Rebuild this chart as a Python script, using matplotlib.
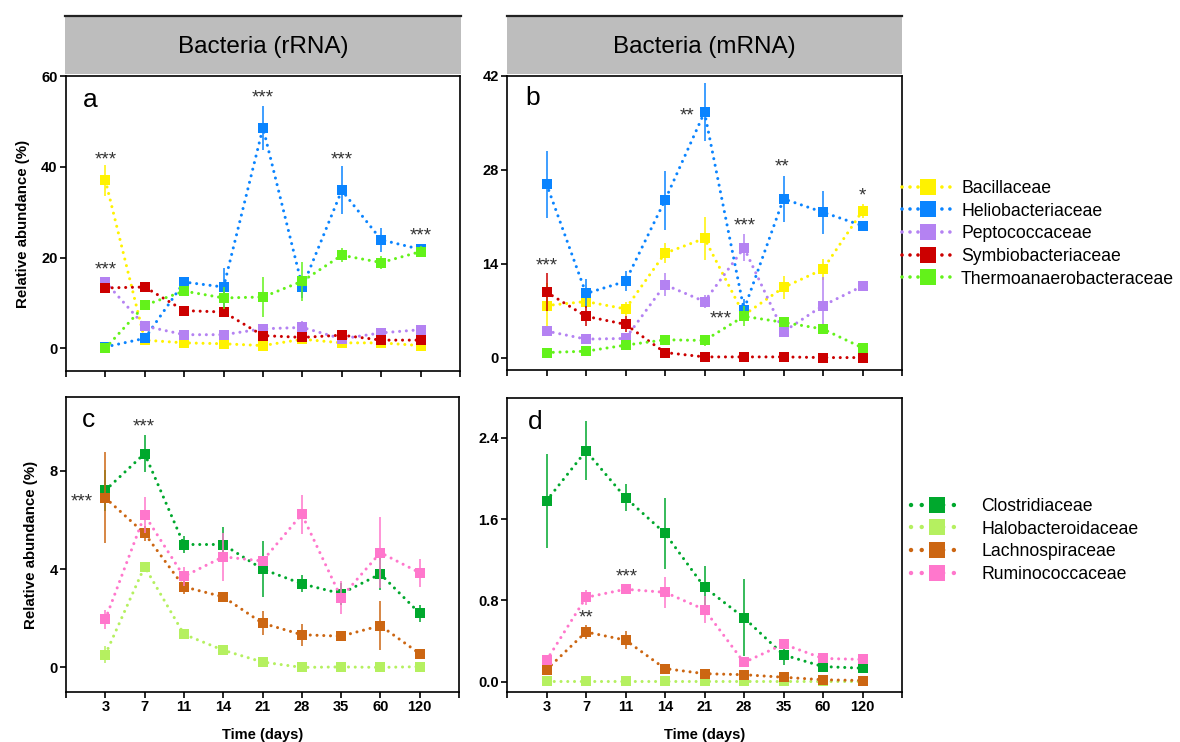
import numpy as np
import matplotlib
matplotlib.use("Agg")
import matplotlib.pyplot as plt
from matplotlib.lines import Line2D
from matplotlib.patches import Rectangle

plt.rcParams['font.family'] = ['Liberation Sans', 'DejaVu Sans']

days = ["3", "7", "11", "14", "21", "28", "35", "60", "120"]

# Panel a: Bacteria rRNA
a_bac = [37.0, 1.8, 1.2, 1.0, 0.6, 2.0, 1.2, 1.2, 0.6]
a_bac_err = [3.5, 0.4, 0.3, 0.3, 0.3, 0.4, 0.3, 0.3, 0.3]
a_hel = [0.3, 2.2, 14.6, 13.5, 48.6, 13.5, 34.8, 23.9, 21.8]
a_hel_err = [1.0, 0.6, 1.0, 4.3, 4.9, 2.5, 5.3, 2.7, 0.9]
a_pep = [14.6, 4.9, 3.0, 3.0, 4.3, 4.6, 2.1, 3.4, 4.1]
a_pep_err = [1.0, 0.5, 0.4, 0.4, 0.6, 1.4, 0.4, 0.6, 0.5]
a_sym = [13.3, 13.5, 8.3, 8.0, 2.8, 2.4, 2.9, 1.8, 1.8]
a_sym_err = [1.2, 0.6, 0.8, 0.7, 0.8, 0.5, 0.5, 0.4, 0.4]
a_the = [0.0, 9.5, 12.6, 11.1, 11.3, 14.8, 20.5, 18.9, 21.3]
a_the_err = [0.8, 0.8, 1.0, 2.5, 4.5, 4.3, 1.5, 1.5, 1.2]

# Panel b: Bacteria mRNA
b_bac = [7.8, 8.4, 7.3, 15.6, 17.8, 6.4, 10.5, 13.2, 21.9]
b_bac_err = [3.3, 1.0, 1.0, 1.5, 3.2, 0.8, 1.7, 1.6, 1.0]
b_hel = [25.9, 9.6, 11.4, 23.5, 36.6, 7.2, 23.7, 21.7, 19.7]
b_hel_err = [5.0, 2.1, 1.5, 4.4, 4.3, 1.6, 3.4, 3.2, 0.6]
b_pep = [4.0, 2.8, 2.9, 10.9, 8.4, 16.4, 3.9, 7.8, 10.7]
b_pep_err = [0.5, 0.4, 0.4, 1.7, 1.0, 2.0, 0.5, 4.2, 0.7]
b_sym = [9.8, 6.2, 5.0, 0.8, 0.15, 0.15, 0.15, 0.05, 0.05]
b_sym_err = [2.8, 1.5, 1.2, 0.3, 0.1, 0.1, 0.1, 0.1, 0.1]
b_the = [0.8, 1.0, 1.9, 2.7, 2.6, 6.2, 5.3, 4.3, 1.5]
b_the_err = [0.3, 0.3, 0.4, 0.5, 0.8, 1.5, 0.5, 0.5, 0.4]

# Panel c: Clostridia rRNA
c_clo = [7.2, 8.7, 5.0, 5.0, 4.0, 3.4, 3.0, 3.8, 2.2]
c_clo_err = [0.85, 0.75, 0.35, 0.7, 1.15, 0.35, 0.45, 0.65, 0.35]
c_hal = [0.52, 4.1, 1.35, 0.7, 0.22, 0.0, 0.02, 0.0, 0.03]
c_hal_err = [0.35, 0.15, 0.15, 0.15, 0.1, 0.05, 0.05, 0.05, 0.05]
c_lac = [6.9, 5.45, 3.28, 2.87, 1.8, 1.33, 1.27, 1.7, 0.56]
c_lac_err = [1.85, 0.3, 0.3, 0.15, 0.5, 0.45, 0.15, 1.0, 0.15]
c_rum = [1.95, 6.2, 3.7, 4.5, 4.33, 6.23, 2.84, 4.67, 3.85]
c_rum_err = [0.4, 0.75, 0.4, 0.97, 0.15, 0.8, 0.67, 1.45, 0.57]

# Panel d: Clostridia mRNA
d_clo = [1.78, 2.27, 1.81, 1.46, 0.93, 0.63, 0.265, 0.15, 0.134]
d_clo_err = [0.46, 0.29, 0.13, 0.35, 0.21, 0.38, 0.1, 0.03, 0.03]
d_hal = [0.005, 0.005, 0.005, 0.005, 0.005, 0.005, 0.005, 0.005, 0.005]
d_hal_err = [0.005, 0.005, 0.005, 0.005, 0.005, 0.005, 0.005, 0.005, 0.005]
d_lac = [0.12, 0.49, 0.41, 0.13, 0.08, 0.07, 0.045, 0.02, 0.013]
d_lac_err = [0.03, 0.07, 0.09, 0.02, 0.02, 0.02, 0.02, 0.01, 0.01]
d_rum = [0.21, 0.83, 0.91, 0.88, 0.71, 0.19, 0.37, 0.23, 0.22]
d_rum_err = [0.03, 0.07, 0.03, 0.15, 0.13, 0.03, 0.03, 0.02, 0.02]

top_names = ["Bacillaceae", "Heliobacteriaceae", "Peptococcaceae",
             "Symbiobacteriaceae", "Thermoanaerobacteraceae"]
top_colors = ["#FFF200", "#0A84FF", "#B482F2", "#CC0000", "#63F21A"]
bot_names = ["Clostridiaceae", "Halobacteroidaceae", "Lachnospiraceae", "Ruminococcaceae"]
bot_colors = ["#00A82D", "#B5F060", "#CC6612", "#FF77CC"]

# significance marks: (x position index, y centre, text)
a_stars = [(1, 42.4, "***"), (1, 18.0, "***"), (5, 56.0, "***"), (7, 42.4, "***"), (9, 25.5, "***")]
b_stars = [(1, 14.2, "***"), (4.57, 36.6, "**"), (6.01, 20.2, "***"), (5.40, 6.4, "***"),
           (6.97, 29.0, "**"), (9.0, 24.7, "*")]
c_stars = [(1.99, 9.95, "***"), (0.41, 6.89, "***")]
d_stars = [(1.99, 0.667, "**"), (3.03, 1.07, "***")]

W, H = 1180, 742
fig = plt.figure(figsize=(W / 100, H / 100), dpi=100)


def fbox(l, t, r, b):
    return [l / W, 1 - b / H, (r - l) / W, (b - t) / H]


x = np.arange(1, len(days) + 1)
DOT = (0, (0.01, 2.2))


def draw_panel(ax, series, errs, colors, ylim, yticks, ylabels, letter, lpos, stars, xlabels):
    for i in range(len(series)):
        ax.errorbar(x, series[i], yerr=errs[i], color=colors[i], ecolor=colors[i],
                    elinewidth=1.1, capsize=3, capthick=1.1,
                    marker='s', markersize=7.8, markeredgewidth=0,
                    linestyle=DOT, linewidth=2.2, dash_capstyle='round',
                    zorder=3 + i)
    ax.set_xlim(0, 10)
    ax.set_ylim(*ylim)
    ax.set_yticks(yticks)
    ax.set_yticklabels(ylabels, fontweight='bold', fontsize=10.5)
    ax.set_xticks(np.arange(0, 11))
    if xlabels:
        ax.set_xticklabels([""] + days + [""], fontweight='bold', fontsize=10.5)
        ax.set_xlabel("Time (days)", fontweight='bold', fontsize=10.5, labelpad=10)
    else:
        ax.set_xticklabels([""] * 11)
    for s in ax.spines.values():
        s.set_linewidth(1.2)
    ax.tick_params(direction='out', length=4, width=1.2, pad=2)
    ax.text(lpos[0], lpos[1], letter, transform=ax.transAxes, fontsize=19,
            ha='left', va='baseline')
    for sx, sy, st in stars:
        ax.annotate(st, (sx, sy), xytext=(0, -6), textcoords='offset points',
                    ha='center', va='baseline', fontsize=13.5, color='#333333', zorder=20)


ax_a = fig.add_axes(fbox(66, 76, 460, 371))
ax_b = fig.add_axes(fbox(507, 76, 902, 370))
ax_c = fig.add_axes(fbox(66, 397, 459, 692))
ax_d = fig.add_axes(fbox(507, 398, 902, 692))

draw_panel(ax_a, [a_bac, a_hel, a_pep, a_sym, a_the],
           [a_bac_err, a_hel_err, a_pep_err, a_sym_err, a_the_err],
           top_colors, (-5, 60), [0, 20, 40, 60], ["0", "20", "40", "60"],
           "a", (0.043, 0.895), a_stars, False)
draw_panel(ax_b, [b_bac, b_hel, b_pep, b_sym, b_the],
           [b_bac_err, b_hel_err, b_pep_err, b_sym_err, b_the_err],
           top_colors, (-1.8, 42), [0, 14, 28, 42], ["0", "14", "28", "42"],
           "b", (0.046, 0.90), b_stars, False)
draw_panel(ax_c, [c_clo, c_hal, c_lac, c_rum],
           [c_clo_err, c_hal_err, c_lac_err, c_rum_err],
           bot_colors, (-1, 11), [0, 4, 8], ["0", "4", "8"],
           "c", (0.041, 0.898), c_stars, True)
draw_panel(ax_d, [d_clo, d_hal, d_lac, d_rum],
           [d_clo_err, d_hal_err, d_lac_err, d_rum_err],
           bot_colors, (-0.1, 2.79), [0, 0.8, 1.6, 2.4], ["0.0", "0.8", "1.6", "2.4"],
           "d", (0.053, 0.895), d_stars, True)

for ax in (ax_a, ax_c):
    ax.set_ylabel("Relative abundance (%)", fontweight='bold', fontsize=10.8, labelpad=8)

# headers
for (l, r, title) in [(65, 461, "Bacteria (rRNA)"), (507, 902, "Bacteria (mRNA)")]:
    fig.patches.append(Rectangle((l / W, 1 - 74 / H), (r - l) / W, (74 - 17) / H,
                                 transform=fig.transFigure, facecolor='#BDBDBD',
                                 edgecolor='none'))
    fig.lines.append(Line2D([l / W, r / W], [1 - 16 / H, 1 - 16 / H],
                            transform=fig.transFigure, color='#222222', linewidth=1.6))
    fig.text((l + r) / 2 / W, 1 - 47 / H, title, ha='center', va='center', fontsize=17.5)

# legends
h1 = [Line2D([], [], color=c, linestyle=DOT, linewidth=2.6, dash_capstyle='round',
             marker='s', markersize=11, markeredgewidth=0) for c in top_colors]
fig.legend(h1, top_names, loc='upper left', bbox_to_anchor=(902 / W, 1 - 180 / H),
           frameon=False, fontsize=12.7, handlelength=2.9, handletextpad=0.45,
           labelspacing=0.32, borderpad=0, borderaxespad=0)
h2 = [Line2D([], [], color=c, linestyle=(0, (0.01, 2.4)), linewidth=3.2, dash_capstyle='round',
             marker='s', markersize=11.5, markeredgewidth=0) for c in bot_colors]
fig.legend(h2, bot_names, loc='upper left', bbox_to_anchor=(911 / W, 1 - 498 / H),
           frameon=False, fontsize=12.7, handlelength=3.0, handletextpad=1.0,
           labelspacing=0.32, borderpad=0, borderaxespad=0)

fig.savefig("out.png", dpi=100)
